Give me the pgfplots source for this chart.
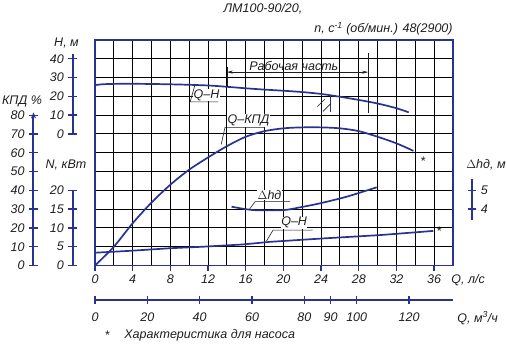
\documentclass[border=0pt]{standalone}
\usepackage{fontspec}
\setmainfont{Liberation Sans}
\usepackage{pgfplots}
\pgfplotsset{compat=1.18}
\usepackage{pgfplotstable}
\usetikzlibrary{arrows.meta}
\definecolor{cb}{RGB}{42,50,145}
\definecolor{tx}{RGB}{30,30,30}

% Q (l/s) -- H (m)
\pgfplotstableread{
Q H
0 26.0
1 26.5
3 26.7
6 26.6
9 26.3
12 25.8
14 25.1
16 24.3
18 23.6
20 23.0
22 22.3
24 21.3
26 19.8
28 18.1
30 16.2
32 13.7
33.3 11.5
}\tabH
% Q -- efficiency (%)
\pgfplotstableread{
Q E
0 0
2 10
4 22.5
6 33.5
8 43
10 51
12 57.5
14 63.5
16 68.5
18 71.5
20 73
22 73.5
24 73.5
26 73
28 71.5
30 68.5
32 65
33.8 61
}\tabE
% Q -- power N (kW)
\pgfplotstableread{
Q N
0 3.4
3.7 3.9
8 4.6
11.5 5.0
15.7 5.6
18.6 6.3
24.2 7.2
30.3 8.1
35.9 9.2
}\tabN
% Q -- NPSH dh (m)
\pgfplotstableread{
Q D
14.5 4.13
16.8 3.95
20 3.95
21.8 4.1
23.9 4.31
26.7 4.66
29.9 5.16
}\tabD

\pgfplotsset{
  ov/.style={at={(0pt,0pt)}, anchor=south west, scale only axis, width=358pt, height=225.5pt,
    xmin=0, xmax=38, hide axis, clip=false},
  cv/.style={cb, line width=1.7pt},
  sc/.style={anchor=south west, scale only axis, width=1pt, xmin=0, xmax=1,
    hide x axis, axis y line*=left, y axis line style={cb, line width=2pt, -},
    ytick style={cb, line width=1.4pt}, tick align=center, major tick length=9pt,
    yticklabel style={text=tx}, /pgf/number format/assume math mode=true},
}
\tikzset{lab/.style={fill=white, inner sep=1pt, text=tx},
  ld/.style={tx, line width=0.6pt}}

\begin{document}
\fontsize{12.5}{15}\selectfont\itshape
\begin{tikzpicture}
\useasboundingbox (-95pt,-93.5pt) rectangle (412pt,265.5pt);

% main grid axis
\begin{axis}[at={(0pt,0pt)}, anchor=south west, scale only axis, width=358pt, height=225.5pt,
  xmin=0, xmax=38, ymin=0, ymax=12,
  xtick={0,4,...,36}, minor xtick={2,6,...,38}, ytick={0,1,...,12}, yticklabels={},
  grid=both, major grid style={black, line width=0.95pt}, minor grid style={black, line width=0.95pt},
  axis line style={cb, line width=1.8pt},
  xtick pos=left, tick align=outside, major tick length=5pt, minor tick length=0pt,
  x tick style={cb, line width=1.4pt}, y tick style={draw=none},
  xticklabel style={text=tx}, /pgf/number format/assume math mode=true]
\addplot[draw=none] coordinates {(0,0)};
\end{axis}

% second Q axis, m3/h
\begin{axis}[at={(0pt,-34.5pt)}, anchor=south west, scale only axis, width=358pt, height=1pt,
  xmin=0, xmax=136.8, ymin=0, ymax=1, hide y axis, axis x line*=bottom,
  x axis line style={cb, line width=1.8pt, -}, xtick={0,20,40,60,80,90,100,120},
  x tick style={cb, line width=1.4pt}, tick align=center, major tick length=8pt,
  xticklabel style={text=tx, yshift=-4pt}, /pgf/number format/assume math mode=true]
\addplot[draw=none] coordinates {(0,0)};
\end{axis}

% left scales
\begin{axis}[sc, at={(-61.5pt,0pt)}, height=153.1pt, ymin=0, ymax=81.5, ytick={0,10,...,80},
  y axis line style={-{Stealth[length=6pt,width=5pt]}}]
\addplot[draw=none] coordinates {(0,0)};
\end{axis}
\begin{axis}[sc, at={(-22.3pt,131.5pt)}, height=79.9pt, ymin=0, ymax=42.5, ytick={0,10,...,40}]
\addplot[draw=none] coordinates {(0,0)};
\end{axis}
\begin{axis}[sc, at={(-22.3pt,0pt)}, height=75.2pt, ymin=0, ymax=20, ytick={0,5,...,20}]
\addplot[draw=none] coordinates {(0,0)};
\end{axis}
% right scale dh
\begin{axis}[sc, axis y line*=right, at={(376pt,45.1pt)}, height=41.3pt, ymin=3.4, ymax=5.6, ytick={4,5}]
\addplot[draw=none] coordinates {(0,4)};
\end{axis}

% H curve
\begin{axis}[ov, ymin=-70, ymax=50]
\addplot[cv, smooth] table[x=Q, y=H] {\tabH};
\draw[ld] (axis cs:14,35.5) -- (axis cs:14,25.1);
\draw[ld, {Stealth[length=6pt,width=3pt]}-{Stealth[length=6pt,width=3pt]}] (axis cs:14,32.9) -- (axis cs:29,32.9);
\draw[ld] (axis cs:29,43) -- (axis cs:29,11.1);
\draw[cb, line width=1pt] (axis cs:25,20.4) -- (axis cs:25,11.6);
\draw[ld] (axis cs:23.6,14.5) -- (axis cs:24.4,18.5);
\draw[ld] (axis cs:24.2,12.0) -- (axis cs:25.0,16.0);
\node[lab, fill=none] at (axis cs:21.1,36.2) {Рабочая часть};
\node[lab, anchor=south west, inner sep=0.5pt] at (axis cs:10.4,17.4) {Q--H};
\draw[ld] (axis cs:10.6,25.9) -- (axis cs:10.1,17.1) -- (axis cs:13.1,17.1);
\end{axis}

% efficiency curve
\begin{axis}[ov, ymin=0, ymax=120]
\addplot[cv, smooth] table[x=Q, y=E] {\tabE};
\draw[ld] (axis cs:13.4,64.5) -- (axis cs:13.8,73.5) -- (axis cs:18.0,73.5);
\node[lab, anchor=south west, inner sep=0.5pt] at (axis cs:14.0,73.8) {Q--КПД};
\node[text=tx] at (axis cs:34.8,55.5) {*};
\end{axis}

% power curve
\begin{axis}[ov, ymin=0, ymax=60]
\addplot[cv] table[x=Q, y=N] {\tabN};
\draw[ld] (axis cs:18.2,6.5) -- (axis cs:18.9,9.4) -- (axis cs:23.1,9.4);
\node[lab, anchor=south west, inner sep=0.5pt] at (axis cs:19.7,9.7) {Q--H};
\node[text=tx] at (axis cs:36.5,9.2) {*};
\end{axis}

% NPSH curve
\begin{axis}[ov, ymin=1, ymax=13]
\addplot[cv, smooth] table[x=Q, y=D] {\tabD};
\draw[ld] (axis cs:16.4,4.0) -- (axis cs:17.0,4.4) -- (axis cs:20.7,4.4);
\node[lab, anchor=south west, inner sep=0.5pt] at (axis cs:17.2,4.45) {$\Delta$hд};
\end{axis}

% texts
\node[text=tx] at (168pt,256.5pt) {ЛМ100-90/20,};
\node[text=tx] at (288.5pt,236.5pt) {n, c\textsuperscript{-1} (об/мин.) 48(2900)};
\node[text=tx] at (-28.5pt,222.5pt) {H, м};
\node[text=tx] at (-73pt,163.8pt) {КПД \%};
\node[text=tx] at (-29pt,100.5pt) {N, кВт};
\node[text=tx] at (391pt,100.5pt) {$\Delta$hд, м};
\node[text=tx, anchor=west] at (352pt,-14.5pt) {Q, л/с};
\node[text=tx, anchor=west] at (358pt,-52.5pt) {Q, м\textsuperscript{3}/ч};
\node[text=tx] at (12pt,-70pt) {*};
\node[text=tx, anchor=west] at (25pt,-69.5pt) {Характеристика для насоса};
\end{tikzpicture}
\end{document}
